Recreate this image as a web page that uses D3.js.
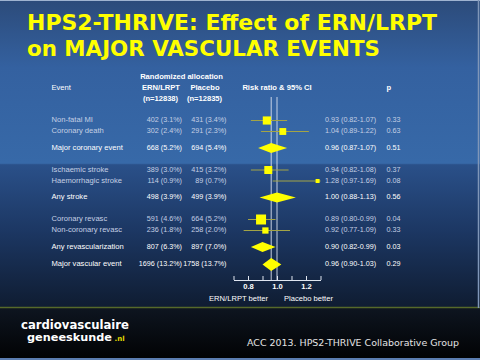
<!DOCTYPE html>
<html>
<head>
<meta charset="utf-8">
<script src="https://cdn.jsdelivr.net/npm/d3@7"></script>
<style>
  html, body { margin: 0; padding: 0; background: #000; }
  svg { display: block; }
</style>
</head>
<body>
<div id="chart"></div>
<script>
// forest plot data
var events = ["Non-fatal MI", "Coronary death", "Major coronary event",
    "Ischaemic stroke", "Haemorrhagic stroke", "Any stroke",
    "Coronary revasc", "Non-coronary revasc", "Any revascularization",
    "Major vascular event"];
var rowType = ["item", "item", "sub", "item", "item", "sub", "item", "item", "sub", "total"];
var ernCount = [402, 302, 668, 389, 114, 498, 591, 236, 807, 1696];
var ernPct = ["3.1", "2.4", "5.2", "3.0", "0.9", "3.9", "4.6", "1.8", "6.3", "13.2"];
var plaCount = [431, 291, 694, 415, 89, 499, 664, 258, 897, 1758];
var plaPct = ["3.4", "2.3", "5.4", "3.2", "0.7", "3.9", "5.2", "2.0", "7.0", "13.7"];
var rr = [0.93, 1.04, 0.96, 0.94, 1.28, 1.00, 0.89, 0.92, 0.90, 0.96];
var ciLo = [0.82, 0.89, 0.87, 0.82, 0.97, 0.88, 0.80, 0.77, 0.82, 0.90];
var ciHi = [1.07, 1.22, 1.07, 1.08, 1.69, 1.13, 0.99, 1.09, 0.99, 1.03];
var pVal = ["0.33", "0.63", "0.51", "0.37", "0.08", "0.56", "0.04", "0.33", "0.03", "0.29"];
var tickVals = [0.7, 0.8, 0.9, 1.0, 1.1, 1.2, 1.3];
var tickLabels = ["", "0.8", "", "1.0", "", "1.2", ""];
var overallRR = 0.96;

var W = 480, H = 360;
var font = "'Liberation Sans', Arial, sans-serif";
var detailCol = "#c5d0e4";

var svg = d3.select("#chart").append("svg")
    .attr("width", W)
    .attr("height", H);

var defs = svg.append("defs");
var bg = defs.append("linearGradient").attr("id", "bg")
    .attr("x1", 0).attr("y1", 0).attr("x2", 0).attr("y2", 1);
[[0, "#2c4b7a"], [0.22, "#3461a0"], [0.53, "#3769a8"], [0.535, "#2a5089"],
 [0.75, "#1c3763"], [1, "#0f1c31"]].forEach(function(s) {
    bg.append("stop").attr("offset", s[0]).attr("stop-color", s[1]);
});
var fg = defs.append("linearGradient").attr("id", "foot")
    .attr("x1", 0).attr("y1", 0).attr("x2", 0).attr("y2", 1);
[[0, "#0e1520"], [1, "#010203"]].forEach(function(s) {
    fg.append("stop").attr("offset", s[0]).attr("stop-color", s[1]);
});

svg.append("rect").attr("width", W).attr("height", 308).attr("fill", "url(#bg)");
svg.append("rect").attr("y", 308).attr("width", W).attr("height", 52).attr("fill", "url(#foot)");
svg.append("line").attr("x1", 0).attr("x2", W).attr("y1", 307.5).attr("y2", 307.5)
    .attr("stroke", "#56692a").attr("stroke-width", 1.5);
svg.append("rect").attr("x", 0).attr("y", 358).attr("width", W).attr("height", 2).attr("fill", "#5b7db0");
svg.append("line").attr("x1", 0).attr("x2", W).attr("y1", 0.5).attr("y2", 0.5)
    .attr("stroke", "#9fb3d0").attr("stroke-width", 1);
svg.append("line").attr("x1", 478.5).attr("x2", 478.5).attr("y1", 0).attr("y2", 308)
    .attr("stroke", "#7f96b8").attr("stroke-width", 1.5);

// title
var title = svg.append("g")
    .attr("fill", "#ffff00")
    .style("font-family", "'DejaVu Sans', Verdana, sans-serif")
    .style("font-weight", "bold")
    .style("font-size", "21px");
title.append("text").attr("x", 27).attr("y", 30)
    .attr("textLength", 410).attr("lengthAdjust", "spacingAndGlyphs")
    .text("HPS2-THRIVE: Effect of ERN/LRPT");
title.append("text").attr("x", 27).attr("y", 56)
    .attr("textLength", 353).attr("lengthAdjust", "spacingAndGlyphs")
    .text("on MAJOR VASCULAR EVENTS");

// row slots: wider gaps around summary rows
var slots = [];
var s = 0;
rowType.forEach(function(t, i) {
    if (i > 0) {
        var prev = rowType[i - 1];
        if (t == "total") s += 1.6;
        else if (t == "sub") s += 1.5;
        else if (prev == "sub") s += 2;
        else s += 1;
    }
    slots.push(s);
});

var y = d3.scaleLinear().domain([0, 1]).range([120.5, 131.5]);
var x = d3.scaleLinear().domain([0.7, 1.3]).range([233.5, 320.5]);
var boxSize = d3.scaleSqrt().domain([0, 1255]).range([0, 10]);
var axisY = 280;

var rows = events.map(function(e, i) {
    return {
        name: e, type: rowType[i], ern: ernCount[i], ernPct: ernPct[i],
        pla: plaCount[i], plaPct: plaPct[i], rr: rr[i], lo: ciLo[i], hi: ciHi[i],
        p: pVal[i], y: y(slots[i])
    };
});

// headers
var head = svg.append("g")
    .attr("fill", "#ffffff")
    .style("font-family", font)
    .style("font-size", "7.6px");
head.append("text").attr("x", 181.5).attr("y", 78.5).attr("text-anchor", "middle")
    .style("font-weight", "bold").text("Randomized allocation");
head.append("text").attr("x", 51.5).attr("y", 89.5).text("Event");
head.append("text").attr("x", 161).attr("y", 89.5).attr("text-anchor", "middle")
    .style("font-weight", "bold").text("ERN/LRPT");
head.append("text").attr("x", 205).attr("y", 89.5).attr("text-anchor", "middle")
    .style("font-weight", "bold").text("Placebo");
head.append("text").attr("x", 160.5).attr("y", 101).attr("text-anchor", "middle")
    .style("font-weight", "bold").text("(n=12838)");
head.append("text").attr("x", 204.5).attr("y", 101).attr("text-anchor", "middle")
    .style("font-weight", "bold").text("(n=12835)");
head.append("text").attr("x", 277).attr("y", 89.5).attr("text-anchor", "middle")
    .style("font-weight", "bold").text("Risk ratio & 95% CI");
head.append("text").attr("x", 386.5).attr("y", 89.5).style("font-weight", "bold").text("p");

// reference lines
svg.append("line")
    .attr("x1", x(1)).attr("x2", x(1)).attr("y1", 97).attr("y2", axisY)
    .attr("stroke", "#d8e0ee").attr("stroke-width", 0.9);
svg.append("line")
    .attr("x1", x(overallRR)).attr("x2", x(overallRR)).attr("y1", 97).attr("y2", axisY)
    .attr("stroke", "#d8e0ee").attr("stroke-width", 0.9);

// table text
var rowG = svg.selectAll("g.row")
    .data(rows)
    .enter().append("g")
    .attr("class", "row")
    .attr("fill", function(d) { return d.type == "item" ? detailCol : "#ffffff"; })
    .style("font-family", font)
    .style("font-size", "7.2px");

rowG.append("text").attr("x", 51.5).attr("y", function(d) { return d.y + 1.5; })
    .style("font-size", "7.6px")
    .text(function(d) { return d.name; });
rowG.append("text").attr("x", 182).attr("y", function(d) { return d.y + 1.5; })
    .attr("text-anchor", "end")
    .text(function(d) { return d.ern + " (" + d.ernPct + "%)"; });
rowG.append("text").attr("x", 226.5).attr("y", function(d) { return d.y + 1.5; })
    .attr("text-anchor", "end")
    .text(function(d) { return d.pla + " (" + d.plaPct + "%)"; });
rowG.append("text").attr("x", 325).attr("y", function(d) { return d.y + 1.5; })
    .text(function(d) { return d.rr.toFixed(2) + " (" + d.lo.toFixed(2) + "-" + d.hi.toFixed(2) + ")"; });
rowG.append("text").attr("x", 386.5).attr("y", function(d) { return d.y + 1.5; })
    .text(function(d) { return d.p; });

// CI lines + squares for single outcomes
var items = rows.filter(function(d) { return d.type == "item"; });
svg.selectAll("line.ci")
    .data(items)
    .enter().append("line")
    .attr("class", "ci")
    .attr("x1", function(d) { return x(Math.max(d.lo, 0.7)); })
    .attr("x2", function(d) { return x(Math.min(d.hi, 1.3)); })
    .attr("y1", function(d) { return d.y; })
    .attr("y2", function(d) { return d.y; })
    .attr("stroke", "#a3a446")
    .attr("stroke-width", 1);
svg.selectAll("rect.box")
    .data(items)
    .enter().append("rect")
    .attr("class", "box")
    .attr("x", function(d) { return x(d.rr) - boxSize(d.ern + d.pla) / 2; })
    .attr("y", function(d) { return d.y - boxSize(d.ern + d.pla) / 2; })
    .attr("width", function(d) { return boxSize(d.ern + d.pla); })
    .attr("height", function(d) { return boxSize(d.ern + d.pla); })
    .attr("fill", "#ffff00");

// diamonds for summary rows
var sums = rows.filter(function(d) { return d.type != "item"; });
svg.selectAll("path.dia")
    .data(sums)
    .enter().append("path")
    .attr("class", "dia")
    .attr("fill", "#ffff00")
    .attr("d", function(d) {
        var h = d.type == "total" ? 6.5 : 5;
        return "M" + x(d.lo) + "," + d.y +
            "L" + x(d.rr) + "," + (d.y - h) +
            "L" + x(d.hi) + "," + d.y +
            "L" + x(d.rr) + "," + (d.y + h) + "Z";
    });

// axis
var axis = d3.axisBottom(x)
    .tickValues(tickVals)
    .tickFormat(function(d, i) { return tickLabels[i]; })
    .tickSizeInner(-4)
    .tickSizeOuter(0)
    .tickPadding(4);
var ax = svg.append("g")
    .attr("transform", "translate(0," + axisY + ")")
    .call(axis);
ax.select(".domain").attr("stroke", "#e0e6f0");
ax.selectAll(".tick line").attr("stroke", "#e0e6f0");
ax.selectAll(".tick text")
    .attr("fill", "#ffffff")
    .style("font-family", font)
    .style("font-size", "7.6px")
    .style("font-weight", "bold");

svg.append("text").attr("x", 268).attr("y", 300.5).attr("text-anchor", "end")
    .attr("fill", "#ffffff").style("font-family", font).style("font-size", "7.6px")
    .text("ERN/LRPT better");
svg.append("text").attr("x", 284).attr("y", 300.5)
    .attr("fill", "#ffffff").style("font-family", font).style("font-size", "7.6px")
    .text("Placebo better");

// footer
var logo = svg.append("g")
    .attr("fill", "#ffffff")
    .style("font-family", "'DejaVu Sans', Verdana, sans-serif")
    .style("font-weight", "bold");
logo.append("text").attr("x", 21).attr("y", 328.5)
    .style("font-size", "12px")
    .attr("textLength", 108).attr("lengthAdjust", "spacingAndGlyphs")
    .text("cardiovasculaire");
logo.append("text").attr("x", 27).attr("y", 341)
    .style("font-size", "11px")
    .attr("textLength", 85).attr("lengthAdjust", "spacingAndGlyphs")
    .text("geneeskunde");
logo.append("text").attr("x", 114.5).attr("y", 341)
    .attr("fill", "#e6dc00").style("font-size", "7px")
    .text(".nl");

svg.append("text").attr("x", 247).attr("y", 346)
    .attr("fill", "#e4e4e4")
    .style("font-family", "'DejaVu Sans', Verdana, sans-serif")
    .style("font-size", "9px")
    .attr("textLength", 212).attr("lengthAdjust", "spacingAndGlyphs")
    .text("ACC 2013.  HPS2-THRIVE Collaborative Group");
</script>
</body>
</html>
